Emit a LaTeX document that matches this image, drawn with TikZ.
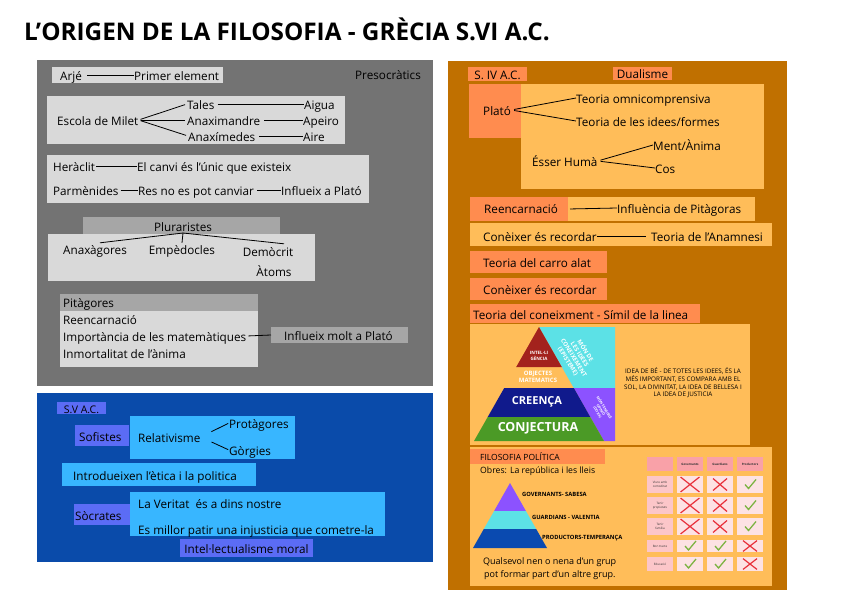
\documentclass[tikz,border=0pt]{standalone}
\usepackage{fontspec}
\setmainfont{Open Sans}
\usetikzlibrary{fit,calc}
\definecolor{gpanel}{HTML}{737373}
\definecolor{glight}{HTML}{D9D9D9}
\definecolor{gmid}{HTML}{A6A6A6}
\definecolor{bpanel}{HTML}{0A4BAA}
\definecolor{bpurp}{HTML}{5B6CF5}
\definecolor{blight}{HTML}{38B6FF}
\definecolor{opanel}{HTML}{C07000}
\definecolor{osal}{HTML}{FF8C4F}
\definecolor{olight}{HTML}{FFBD59}
\definecolor{pred}{HTML}{A3221D}
\definecolor{pnavy}{HTML}{101A8C}
\definecolor{pgreen}{HTML}{4B9A26}
\definecolor{pcyan}{HTML}{5CE1E6}
\definecolor{pviol}{HTML}{8C52FF}
\definecolor{pblue}{HTML}{0A4AB0}
\definecolor{tpinkH}{HTML}{F9A1A8}
\definecolor{tpinkL}{HTML}{FCC6C9}
\definecolor{tpinkC}{HTML}{FDE2E4}
\definecolor{xred}{HTML}{E8303A}
\definecolor{vgreen}{HTML}{7CB342}
\begin{document}
\begin{tikzpicture}[x=1pt,y=-1pt,
  bx/.style={fill=#1, draw=none, inner sep=0pt, outer sep=0pt},
  t/.style={inner sep=0pt, anchor=west, font=\fontsize{11.7}{14}\selectfont, text height=10pt, text depth=0pt},
  tc/.style={inner sep=0pt, font=\fontsize{11.7}{14}\selectfont, text height=10pt, text depth=0pt},
  ln/.style={draw=black, line width=0.8pt},
  pw/.style={inner sep=0pt, text=white, align=center},
  tiny/.style={inner sep=0pt, align=center, font=\fontsize{3}{3.6}\selectfont, text=black!80},
  xm/.pic={\draw[xred,line width=1.2pt] (-7,-6) -- (7,6) (-7,6) -- (7,-6);},
  ck/.pic={\draw[vgreen,line width=1.3pt] (-5,0) -- (-1.5,4) -- (6,-5);}
]
\fill[white] (0,0) rectangle (848,600);
\useasboundingbox (0,0) rectangle (848,600);
\node[anchor=base west, inner sep=0pt, font=\fontsize{24.3}{28}\bfseries\selectfont] (title) at (24,40) {L’ORIGEN DE LA FILOSOFIA - GRÈCIA S.VI A.C.};

% panels
\node[bx=gpanel, fit={(37,60) (433,386)}] (grey) {};
\node[bx=bpanel, fit={(37,393) (433,562)}] (blue) {};
\node[bx=opanel, fit={(448,61) (787,590)}] (orange) {};

% ---------- grey panel
\node[bx=glight, fit={(52,67) (223,83)}] (arjebox) {};
\node[t] (arje) at (60,75) {Arjé};
\node[t] (prim) at (134,75) {Primer element};
\draw[ln, shorten <=5pt] (arje.east) -- (prim.west);
\node[t] (preso) at (355,74) {Presocràtics};

\node[bx=glight, fit={(47,96) (345,144)}] (miletbox) {};
\node[t] (milet) at (57,120) {Escola de Milet};
\node[t] (tales) at (187,104) {Tales};
\node[t] (anaxi) at (187,120) {Anaximandre};
\node[t] (anaxim) at (188,136) {Anaxímedes};
\node[t] (aigua) at (304,104) {Aigua};
\node[t] (apeiro) at (303,120) {Apeiro};
\node[t] (aire) at (303,136) {Aire};
\draw[ln, shorten <=2pt, shorten >=2pt] (milet.east) -- (tales.west);
\draw[ln, shorten <=2pt, shorten >=2pt] (milet.east) -- (anaxi.west);
\draw[ln, shorten <=2pt, shorten >=2pt] (milet.east) -- (anaxim.west);
\draw[ln, shorten <=3pt] (tales.east) -- (aigua.west);
\draw[ln, shorten <=4pt] (anaxi.east) -- (apeiro.west);
\draw[ln, shorten <=4pt] (anaxim.east) -- (aire.west);

\node[bx=glight, fit={(47,155) (369,203)}] (herbox) {};
\node[t] (heracl) at (53,166) {Heràclit};
\node[t] (canvi) at (137,166) {El canvi és l’únic que existeix};
\node[t] (parm) at (53,190) {Parmènides};
\node[t] (res) at (138,190) {Res no es pot canviar};
\node[t] (infl) at (281,190) {Influeix a Plató};
\draw[ln, shorten <=1pt] (heracl.east) -- (canvi.west);
\draw[ln, shorten <=2pt] (parm.east) -- (res.west);
\draw[ln, shorten <=3pt] (res.east) -- (infl.west);

\node[bx=glight, fit={(48,234) (315,281)}] (plurbox) {};
\node[bx=gmid, fit={(83,217) (280,234)}] (plurhead) {};
\node[tc] (plur) at (183,226) {Pluraristes};
\node[tc] (anaxag) at (95,249) {Anaxàgores};
\node[tc] (emped) at (182,249) {Empèdocles};
\node[tc] (democ) at (268,251) {Demòcrit};
\node[tc] (atoms) at (274,271) {Àtoms};
\coordinate (pj) at (183,233);
\draw[ln] (pj) -- ($(anaxag.north)+(5,-1)$);
\draw[ln] (pj) -- ($(emped.north)+(0,-1)$);
\draw[ln] (pj) -- ($(democ.north)+(16,-2)$);

\node[bx=gmid, fit={(60,294) (258,311)}] (pithead) {};
\node[bx=glight, fit={(60,311) (258,367)}] (pitbody) {};
\node[t] (pitag) at (63,302) {Pitàgores};
\node[t] (reen) at (63,319) {Reencarnació};
\node[t] (impor) at (63,336) {Importància de les matemàtiques};
\node[t] (inmort) at (63,353) {Inmortalitat de l’ànima};
\node[bx=gmid, fit={(271,327) (408,343)}] (infmbox) {};
\node[t] (infm) at (284,335) {Influeix molt a Plató};
\draw[ln, shorten <=2pt] (impor.east) -- (infmbox.west);

% ---------- blue panel
\node[bx=bpurp, fit={(57,402) (106,414)}] (svbox) {};
\node[tc, font=\fontsize{10.5}{12}\selectfont] (sv) at (svbox.center) {S.V A.C.};
\node[bx=bpurp, fit={(75,425) (129,446)}] (sofbox) {};
\node[bx=blight, fit={(130,416) (295,459)}] (relbox) {};
\node[t] (sof) at (79,436) {Sofistes};
\node[t] (rel) at (138,437) {Relativisme};
\node[t] (prot) at (229,423) {Protàgores};
\node[t] (gorg) at (229,450) {Gòrgies};
\draw[ln, shorten <=12pt, shorten >=1pt] (rel.east) -- (prot.west);
\draw[ln, shorten <=12pt, shorten >=1pt] (rel.east) -- (gorg.west);

\node[bx=blight, fit={(62,463) (256,486)}] (introbox) {};
\node[t] (intro) at (73,475) {Introdueixen l’ètica i la politica};

\node[bx=bpurp, fit={(74,504) (130,525)}] (socbox) {};
\node[bx=blight, fit={(130,492) (385,536)}] (verbox) {};
\node[t] (soc) at (75,515) {Sòcrates};
\node[t] (ver) at (138,503) {La Veritat \ és a dins nostre};
\node[t] (patir) at (138,529) {Es millor patir una injusticia que cometre-la};
\node[bx=bpurp, fit={(180,539) (313,557)}] (intbox) {};
\node[tc] (intel) at (intbox.center) {Intel·lectualisme moral};

% ---------- orange panel
\node[bx=osal, fit={(468,67) (527,81)}] (s4box) {};
\node[tc] (s4) at (s4box.center) {S. IV A.C.};
\node[bx=osal, fit={(613,67) (672,80)}] (dualbox) {};
\node[tc] (dual) at (dualbox.center) {Dualisme};

\node[bx=olight, fit={(521,84) (764,189)}] (platobox) {};
\node[bx=osal, fit={(469,84) (521,138)}] (platohead) {};
\node[t] (plato) at (483,110) {Plató};
\node[t] (omni) at (576,98) {Teoria omnicomprensiva};
\node[t] (idees) at (576,121) {Teoria de les idees/formes};
\node[t] (esser) at (532,161) {Ésser Humà};
\node[t] (ment) at (653,145) {Ment/Ànima};
\node[t] (cos) at (655,168) {Cos};
\draw[ln, shorten <=3pt] (plato.east) -- (omni.west);
\draw[ln, shorten <=3pt] (plato.east) -- (idees.west);
\draw[ln, shorten <=3pt] (esser.east) -- (ment.west);
\draw[ln, shorten <=3pt] (esser.east) -- (cos.west);

\node[bx=osal, fit={(470,197) (568,221)}] (reenbox) {};
\node[bx=olight, fit={(568,197) (755,221)}] (pitgbox) {};
\node[t] (reen2) at (484,208) {Reencarnació};
\node[t] (pitg) at (617,208) {Influència de Pitàgoras};
\draw[ln, shorten <=2pt] (reenbox.east) -- (pitg.west);

\node[bx=olight, fit={(470,223) (772,246)}] (conbox) {};
\node[t] (con1) at (483,236) {Conèixer és recordar};
\node[t] (anam) at (651,236) {Teoria de l’Anamnesi};
\draw[ln, shorten >=5pt] (con1.east) -- (anam.west);

\node[bx=osal, fit={(470,251) (607,273)}] (carrobox) {};
\node[t] (carro) at (483,262) {Teoria del carro alat};
\node[bx=osal, fit={(470,278) (607,300)}] (con2box) {};
\node[t] (con2) at (483,289) {Conèixer és recordar};
\node[bx=osal, fit={(470,304) (700,323)}] (simbox) {};
\node[t] (simil) at (473,314) {Teoria del coneixment - Símil de la linea};
\node[bx=olight, fit={(470,324) (750,445)}] (pyrbox) {};

% pyramid 1
\fill[pcyan] (539,327) -- (615,327) -- (615,388) -- (573.8,388) -- cycle;
\fill[pviol] (573.8,388) -- (615,388) -- (615,441) -- (604,441) -- cycle;
\fill[pred] (539,327) -- (561.8,367) -- (516.2,367) -- cycle;
\fill[pnavy] (504.2,388) -- (573.8,388) -- (590.3,417) -- (487.7,417) -- cycle;
\fill[pgreen] (487.7,417) -- (590.3,417) -- (604,441) -- (474,441) -- cycle;
\node[pw, font=\fontsize{4.5}{5.5}\bfseries\selectfont] (intl) at (539,356) {INTEL·LI\\GÈNCIA};
\node[pw, font=\fontsize{6}{7.5}\bfseries\selectfont] (objm) at (538,377) {OBJECTES\\MATEMATICS};
\node[pw, font=\fontsize{11}{13}\bfseries\selectfont] (creen) at (537,402) {CREENÇA};
\node[pw, font=\fontsize{12.5}{14}\bfseries\selectfont] (conj) at (538,428) {CONJECTURA};
\node[pw, rotate=-58, font=\fontsize{6}{6.8}\bfseries\selectfont] (mon) at (577,356) {MÓN DE\\LES IDEES\\CONEIXEMENT\\(EPISTEME)};
\node[pw, rotate=-58, font=\fontsize{3.5}{4}\bfseries\selectfont] (sens) at (601,410) {MÓN SENSIBLE\\OPINIÓ\\(DOXA)};
\node[inner sep=0pt, align=center, font=\fontsize{6.3}{7.7}\selectfont] (idea) at (683,383) {IDEA DE BÉ - DE TOTES LES IDEES, ÉS LA\\MÉS IMPORTANT, ES COMPARA AMB EL\\SOL, LA DIVINITAT, LA IDEA DE BELLESA I\\LA IDEA DE JUSTICIA};

% filosofia politica
\node[bx=olight, fit={(470,447) (772,586)}] (polbox) {};
\node[bx=osal, fit={(470,449) (605,464)}] (polhead) {};
\node[inner sep=0pt, anchor=west, font=\fontsize{8.5}{9}\selectfont] (pol) at (480,457) {FILOSOFIA POLÍTICA};
\node[inner sep=0pt, anchor=west, font=\fontsize{8.7}{10}\selectfont] (obres) at (480,471) {Obres: La república i les lleis};
\fill[pviol] (510,483) -- (525.9,511) -- (494.1,511) -- cycle;
\fill[pcyan] (494.1,511) -- (525.9,511) -- (536.2,529) -- (483.8,529) -- cycle;
\fill[pblue] (483.8,529) -- (536.2,529) -- (547,548) -- (473,548) -- cycle;
\node[inner sep=0pt, anchor=west, font=\fontsize{5.8}{7}\bfseries\selectfont] (gov) at (522,494) {GOVERNANTS- SABESA};
\node[inner sep=0pt, anchor=west, font=\fontsize{5.8}{7}\bfseries\selectfont] (guard) at (532,517) {GUARDIANS - VALENTIA};
\node[inner sep=0pt, anchor=west, font=\fontsize{5.8}{7}\bfseries\selectfont] (prod) at (542,538) {PRODUCTORS-TEMPERANÇA};
\node[inner sep=0pt, anchor=west, font=\fontsize{9}{10}\selectfont] (qual1) at (483,562) {Qualsevol nen o nena d’un grup};
\node[inner sep=0pt, anchor=west, font=\fontsize{9}{10}\selectfont] (qual2) at (484,575) {pot formar part d’un altre grup.};

% table
\foreach \c/\xa/\xb in {0/647/673,1/677/703,2/707/733,3/737/763}
  \node[bx=tpinkH, fit={(\xa,457) (\xb,471)}] (cell-0-\c) {};
\foreach \r/\ya/\yb in {1/476/493,2/497/514,3/518/535,4/540/552,5/557/571} {
  \node[bx=tpinkL, fit={(647,\ya) (673,\yb)}] (cell-\r-0) {};
  \foreach \c/\xa/\xb in {1/677/703,2/707/733,3/737/763}
    \node[bx=tpinkC, fit={(\xa,\ya) (\xb,\yb)}] (cell-\r-\c) {};
}
\node[tiny, font=\fontsize{3}{3.6}\bfseries\selectfont] (h1) at (cell-0-1) {Governants};
\node[tiny, font=\fontsize{3}{3.6}\bfseries\selectfont] (h2) at (cell-0-2) {Guardians};
\node[tiny, font=\fontsize{3}{3.6}\bfseries\selectfont] (h3) at (cell-0-3) {Productors};
\node[tiny] (l1) at (cell-1-0) {Viure amb\\comoditat};
\node[tiny] (l2) at (cell-2-0) {Tenir\\propietats};
\node[tiny] (l3) at (cell-3-0) {Tenir\\família};
\node[tiny] (l4) at (cell-4-0) {Bon tracte};
\node[tiny] (l5) at (cell-5-0) {Educació};
\foreach \r in {1,2,3} {
  \pic[xscale=1.35, yscale=1.25] at (cell-\r-1) {xm};
  \pic at (cell-\r-2) {xm};
  \pic at (cell-\r-3) {ck};
}
\foreach \r in {4,5} {
  \pic at (cell-\r-1) {ck};
  \pic at (cell-\r-2) {ck};
  \pic[yscale=0.9] at (cell-\r-3) {xm};
}
\end{tikzpicture}
\end{document}
